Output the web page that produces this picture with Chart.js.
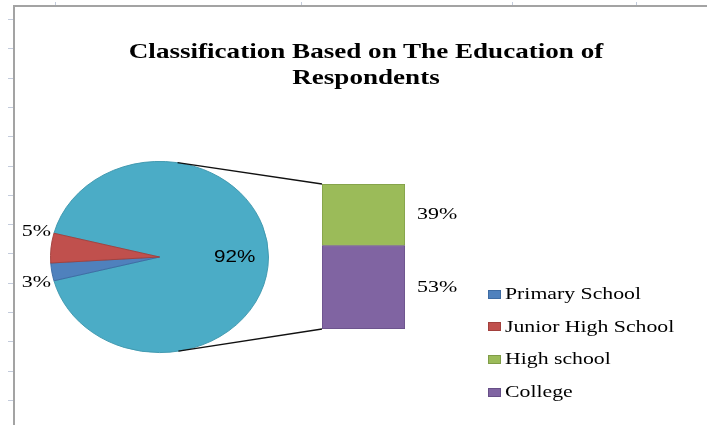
<!DOCTYPE html>
<html>
<head>
<meta charset="utf-8">
<script src="https://cdn.jsdelivr.net/npm/chart.js@4.4.1/dist/chart.umd.min.js"></script>
<style>
  body { margin: 0; background: #fff; }
  #wrap { position: relative; width: 707px; height: 425px; overflow: hidden; background: #fff; }
  .frameTop { position: absolute; left: 13px; right: 0; top: 5px; height: 2px; background: #a3a3a3; }
  .frameLeft { position: absolute; left: 13px; top: 5px; bottom: 0; width: 2px; background: #a3a3a3; }
  .colTick { position: absolute; top: 2px; width: 1px; height: 3px; background: #c3cbdb; }
  .rowTick { position: absolute; left: 8px; width: 5px; height: 1px; background: #c3cbdb; }
  canvas { position: absolute; left: 0; top: 0; }
  #title {
    position: absolute; left: 366px; top: 38px;
    transform: translateX(-50%) scaleX(1.29);
    font: bold 21px "Liberation Serif", serif; line-height: 26px;
    text-align: center; white-space: nowrap; color: #000;
  }
  #legend { position: absolute; left: 488px; top: 278px; }
  .item { display: flex; align-items: center; height: 32.6px; }
  .key { width: 11px; height: 7px; border: 1px solid; margin-right: 4px; }
  .txt { display: inline-block; transform: scaleX(1.28); transform-origin: 0 50%;
         font: 17px "Liberation Serif", serif; color: #000; white-space: nowrap; }
</style>
</head>
<body>
<div id="wrap">
  <div class="frameTop"></div>
  <div class="frameLeft"></div>
  <canvas id="pieCanvas" width="707" height="425"></canvas>
  <canvas id="barCanvas" width="707" height="425"></canvas>
  <div id="title">Classification Based on The Education of<br>Respondents</div>
  <div id="legend"></div>
</div>
<script>
// ------- Data -------
const pieLabels = ["Other", "Primary School", "Junior High School"];
const pieValues = [92, 3, 5];
const barLabels = ["High school", "College"];
const barValues = [39, 53];

// ------- Style -------
const fills = {
  "Other": "#4bacc6",
  "Primary School": "#4f81bd",
  "Junior High School": "#c0504d",
  "High school": "#9bbb59",
  "College": "#8064a2",
};
const edges = {
  "Other": "#3f97ae",
  "Primary School": "#3d6ba3",
  "Junior High School": "#a2403d",
  "High school": "#7f9c47",
  "College": "#674f87",
};
const SX = 1.29;      // text in the picture is stretched sideways
const SQUASH = 0.877; // pie is drawn a bit flattened

// spreadsheet frame ticks
const wrap = document.getElementById("wrap");
[55, 301, 512, 636].forEach((x) => {
  const d = document.createElement("div");
  d.className = "colTick"; d.style.left = x + "px"; wrap.appendChild(d);
});
for (let k = 0; k < 14; k++) {
  const d = document.createElement("div");
  d.className = "rowTick"; d.style.top = Math.round(19 + 29.3 * k) + "px"; wrap.appendChild(d);
}

function stretchedText(ctx, text, x, y, align, font) {
  ctx.save();
  ctx.translate(x, y);
  ctx.scale(SX, 1);
  ctx.font = font;
  ctx.fillStyle = "#000";
  ctx.textAlign = align;
  ctx.textBaseline = "middle";
  ctx.fillText(text, 0, 0);
  ctx.restore();
}

// ------- Pie -------
const total = pieValues.reduce((a, b) => a + b, 0);
const otherSweep = (pieValues[0] / total) * 360;

const squashPlugin = {
  id: "squash",
  beforeDatasetsDraw(chart) {
    const a = chart.getDatasetMeta(0).data[0];
    const ctx = chart.ctx;
    ctx.save();
    ctx.translate(a.x, a.y);
    ctx.scale(1, SQUASH);
    ctx.translate(-a.x, -a.y);
  },
  afterDatasetsDraw(chart) {
    chart.ctx.restore();
  },
};

const pieLabelPlugin = {
  id: "pieLabels",
  afterDraw(chart) {
    const ctx = chart.ctx;
    chart.getDatasetMeta(0).data.forEach((arc, i) => {
      const text = pieValues[i] + "%";
      const r = arc.outerRadius;
      if (i === 0) {
        const mid = (arc.startAngle + arc.endAngle) / 2;
        const x = arc.x + Math.cos(mid) * r * 0.69;
        const y = arc.y + Math.sin(mid) * r * 0.69 * SQUASH + 1;
        stretchedText(ctx, text, x, y, "center", '16px "Liberation Sans", sans-serif');
      } else {
        // anchor on the slice edge that is further from the horizontal
        const a = Math.abs(Math.sin(arc.startAngle)) > Math.abs(Math.sin(arc.endAngle)) ? arc.startAngle : arc.endAngle;
        const s = Math.sin(a) > 0 ? 1 : -1;
        const x = arc.x + Math.cos(a) * r - 3;
        const y = arc.y + Math.sin(a) * r * SQUASH + s * 2;
        stretchedText(ctx, text, x, y, "right", '17px "Liberation Serif", serif');
      }
    });
  },
};

const pieChart = new Chart(document.getElementById("pieCanvas"), {
  type: "pie",
  data: {
    labels: pieLabels,
    datasets: [{
      data: pieValues,
      backgroundColor: pieLabels.map((l) => fills[l]),
      borderColor: pieLabels.map((l) => edges[l]),
      borderWidth: 1,
    }],
  },
  options: {
    responsive: false,
    animation: false,
    devicePixelRatio: 1,
    rotation: 90 - otherSweep / 2,
    layout: { padding: { left: 50, right: 438, top: 147.5, bottom: 58.5 } },
    plugins: { legend: { display: false }, tooltip: { enabled: false }, title: { display: false } },
  },
  plugins: [squashPlugin, pieLabelPlugin],
});

// ------- Bar of pie -------
const connectorPlugin = {
  id: "connectors",
  beforeDatasetsDraw(chart) {
    const arc = pieChart.getDatasetMeta(0).data[0];
    const metas = chart.data.datasets.map((_, i) => chart.getDatasetMeta(i));
    const bottomEl = metas[0].data[0];
    const topEl = metas[metas.length - 1].data[0];
    const left = bottomEl.x - bottomEl.width / 2;
    const corners = [[left, topEl.y, -1], [left, bottomEl.base, 1]];
    const r = arc.outerRadius;
    const ctx = chart.ctx;
    ctx.save();
    ctx.strokeStyle = "#111";
    ctx.lineWidth = 1.3;
    corners.forEach(([px, py, side]) => {
      const dx = px - arc.x, dy = (py - arc.y) / SQUASH;
      const d = Math.hypot(dx, dy);
      const t = Math.atan2(dy, dx) + side * Math.acos(r / d);
      ctx.beginPath();
      ctx.moveTo(arc.x + Math.cos(t) * r, arc.y + Math.sin(t) * r * SQUASH);
      ctx.lineTo(px, py);
      ctx.stroke();
    });
    ctx.restore();
  },
  afterDraw(chart) {
    chart.data.datasets.forEach((ds, i) => {
      const el = chart.getDatasetMeta(i).data[0];
      const y = (el.y + el.base) / 2;
      stretchedText(chart.ctx, ds.data[0] + "%", el.x + el.width / 2 + 12, y, "left", '17px "Liberation Serif", serif');
    });
  },
};

const stackOrder = barLabels.map((l, i) => i).reverse(); // College at the bottom
new Chart(document.getElementById("barCanvas"), {
  type: "bar",
  data: {
    labels: ["Other"],
    datasets: stackOrder.map((i) => ({
      label: barLabels[i],
      data: [barValues[i]],
      backgroundColor: fills[barLabels[i]],
      borderColor: edges[barLabels[i]],
      borderWidth: 1,
      borderSkipped: false,
      barPercentage: 1,
      categoryPercentage: 1,
    })),
  },
  options: {
    responsive: false,
    animation: false,
    devicePixelRatio: 1,
    layout: { padding: { left: 322, right: 302, top: 184, bottom: 96 } },
    scales: {
      x: { stacked: true, display: false },
      y: { stacked: true, display: false, min: 0, max: barValues.reduce((a, b) => a + b, 0) },
    },
    plugins: { legend: { display: false }, tooltip: { enabled: false } },
  },
  plugins: [connectorPlugin],
});

// ------- Legend -------
const legendEl = document.getElementById("legend");
pieLabels.slice(1).concat(barLabels).forEach((label) => {
  const item = document.createElement("div");
  item.className = "item";
  const key = document.createElement("span");
  key.className = "key";
  key.style.background = fills[label];
  key.style.borderColor = edges[label];
  const txt = document.createElement("span");
  txt.className = "txt";
  txt.textContent = label;
  item.appendChild(key);
  item.appendChild(txt);
  legendEl.appendChild(item);
});
</script>
</body>
</html>
